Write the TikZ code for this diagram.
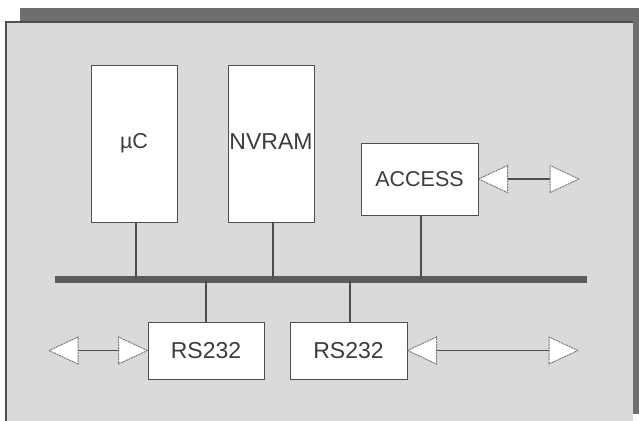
\documentclass[tikz,border=0pt]{standalone}
\usepackage{fontspec}
\setmainfont{Liberation Sans}
\definecolor{shadowc}{HTML}{6E6E6E}
\definecolor{panelc}{HTML}{DADADA}
\definecolor{linec}{HTML}{4E4E4E}
\definecolor{textc}{HTML}{3C3C3C}
\definecolor{busc}{HTML}{5C5C5C}
\definecolor{tric}{HTML}{7A7A7A}
\begin{document}
\begin{tikzpicture}[x=1pt,y=-1pt,
  blockbox/.style={draw=linec, line width=1pt, fill=white, inner sep=0pt,
    text=textc, font=\fontsize{21.5}{24}\selectfont},
  bigtext/.style={font=\fontsize{23}{26}\selectfont},
  conn/.style={draw=linec, line width=1.2pt},
  tristyle/.style={draw=tric, line width=1pt, dash pattern=on 2pt off 0.8pt, fill=white},
  tri/.pic={\path[tristyle] (0,0) -- (-29,-13.5) -- (-29,13.5) -- cycle;}
]
\useasboundingbox (0,0) rectangle (639,420);
% shadow and panel
\fill[shadowc] (20,8) rectangle (639,414);
\fill[panelc] (6,22) rectangle (633,425);
\draw[linec, line width=1.5pt] (6,425) -- (6,22) -- (633,22);
% blocks
\node[blockbox, minimum width=86pt, minimum height=157pt] (uc) at (134,143.5) {\raisebox{3pt}{µC}};
\node[blockbox, bigtext, minimum width=86pt, minimum height=157pt] (nv) at (271,143.5) {\raisebox{3pt}{NVRAM}};
\node[blockbox, minimum width=117pt, minimum height=72pt] (acc) at (419.5,179) {ACCESS};
\node[blockbox, bigtext, minimum width=116pt, minimum height=57pt] (rsl) at (206,350.5) {\raisebox{-4pt}{RS232}};
\node[blockbox, bigtext, minimum width=117pt, minimum height=57pt] (rsr) at (348.5,350.5) {\raisebox{-4pt}{RS232}};
% bus
\coordinate (busl) at (55,279);
\coordinate (busr) at (587,279);
\draw[busc, line width=7pt] (busl) -- (busr);
% connectors to bus
\draw[conn] ([xshift=2pt]uc.south) -- ([xshift=2pt]uc.south |- busl);
\draw[conn] ([xshift=2pt]nv.south) -- ([xshift=2pt]nv.south |- busl);
\draw[conn] ([xshift=1.5pt]acc.south) -- ([xshift=1.5pt]acc.south |- busl);
\draw[conn] (rsl.north) -- (rsl.north |- busl);
\draw[conn] ([xshift=1.5pt]rsr.north) -- ([xshift=1.5pt]rsr.north |- busl);
% ACCESS double arrow
\coordinate (a1) at ([xshift=29pt]acc.east);
\coordinate (a2) at (550,179);
\coordinate (a3) at (579,179);
\draw[conn] (a1) -- (a2);
\pic[rotate=180] at (acc.east) {tri};
\pic at (a3) {tri};
% left RS232 double arrow
\coordinate (b0) at (49,350.5);
\coordinate (b1) at (78,350.5);
\coordinate (b2) at ([xshift=-29pt]rsl.west);
\draw[conn] (b1) -- (b2);
\pic[rotate=180] at (b0) {tri};
\pic at (rsl.west) {tri};
% right RS232 double arrow
\coordinate (c1) at ([xshift=29pt]rsr.east);
\coordinate (c2) at (549,350.5);
\coordinate (c3) at (578,350.5);
\draw[conn] (c1) -- (c2);
\pic[rotate=180] at (rsr.east) {tri};
\pic at (c3) {tri};
\end{tikzpicture}
\end{document}
